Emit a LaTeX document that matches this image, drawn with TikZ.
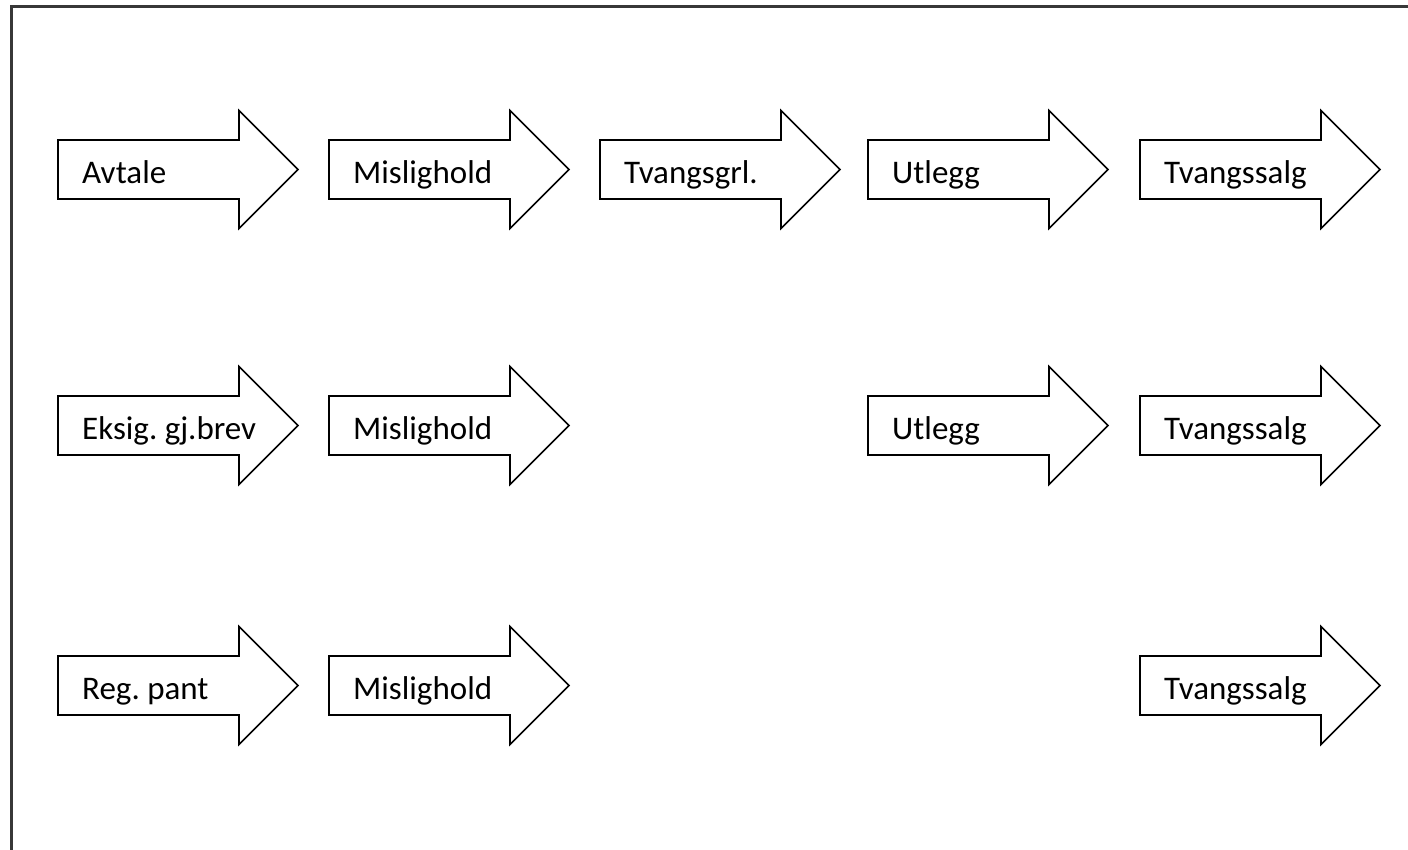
\documentclass[tikz,border=0pt]{standalone}
\usepackage{fontspec}
\setmainfont{Carlito}
\frenchspacing
\begin{document}
\begin{tikzpicture}[x=1pt,y=-1pt,
  arrowshape/.style={draw=black,line width=1.6pt,line join=miter,fill=white},
  frameline/.style={draw=black!78,line width=3pt},
  lbl/.style={anchor=base west,inner sep=0pt,font=\fontsize{33}{36}\selectfont}]
\useasboundingbox (0,0) rectangle (1408,849);
\begin{scope}
\clip (0,0) rectangle (1408,849);
\draw[frameline] (11,6) rectangle (1440,880);
\end{scope}
% \arrowbox{left x}{center y}{name}{text}
\newcommand\arrowbox[4]{%
  \draw[arrowshape] (#1,#2-29.5) -- (#1+181,#2-29.5) -- (#1+181,#2-59)
    -- (#1+240,#2) -- (#1+181,#2+59) -- (#1+181,#2+29.5) -- (#1,#2+29.5) -- cycle;
  \node[lbl] (#3) at (#1+24,#2+14) {#4};}
% row 1
\arrowbox{58}{169.5}{a1}{Avtale}
\arrowbox{329}{169.5}{a2}{Mislighold}
\arrowbox{600}{169.5}{a3}{Tvangsgrl.}
\arrowbox{868}{169.5}{a4}{Utlegg}
\arrowbox{1140}{169.5}{a5}{Tvangssalg}
% row 2
\arrowbox{58}{425.5}{b1}{Eksig. gj.brev}
\arrowbox{329}{425.5}{b2}{Mislighold}
\arrowbox{868}{425.5}{b4}{Utlegg}
\arrowbox{1140}{425.5}{b5}{Tvangssalg}
% row 3
\arrowbox{58}{685.5}{c1}{Reg. pant}
\arrowbox{329}{685.5}{c2}{Mislighold}
\arrowbox{1140}{685.5}{c5}{Tvangssalg}
\end{tikzpicture}
\end{document}
